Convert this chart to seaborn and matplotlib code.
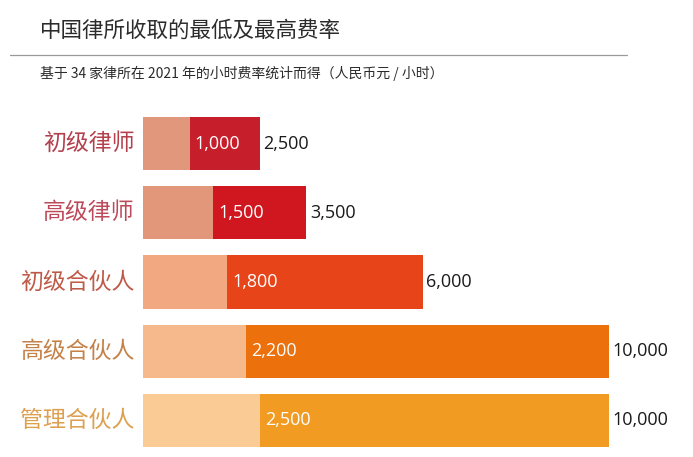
import matplotlib
matplotlib.use("Agg")
import matplotlib.pyplot as plt
import seaborn as sns

# 数据
jibie = ["初级律师", "高级律师", "初级合伙人", "高级合伙人", "管理合伙人"]
zuidi = [1000, 1500, 1800, 2200, 2500]
zuigao = [2500, 3500, 6000, 10000, 10000]

# 颜色
qian_se = ["#E0977B", "#E2977B", "#F2A880", "#F6B98B", "#FBCB96"]
shen_se = ["#C61E2B", "#D0161F", "#E7441A", "#EC700B", "#F29B23"]
biaoqian_se = ["#B3404C", "#BC4A5A", "#BE5B48", "#C48148", "#DDA050"]

sns.set_style("white")
plt.rcParams['font.family'] = ['Noto Sans CJK SC', 'DejaVu Sans']

fig = plt.figure(figsize=(6.93, 4.57), dpi=100)
ax = fig.add_axes([143 / 693, 2 / 457, 466 / 693, 346 / 457])

# 最高费率（深色，整条）
sns.barplot(x=zuigao, y=jibie, hue=jibie, palette=dict(zip(jibie, shen_se)),
            orient="h", width=0.77, ax=ax, legend=False, saturation=1, linewidth=0)
# 最低费率（浅色，覆盖在前段）
sns.barplot(x=zuidi, y=jibie, hue=jibie, palette=dict(zip(jibie, qian_se)),
            orient="h", width=0.77, ax=ax, legend=False, saturation=1, linewidth=0)

ax.set_xlim(0, 10000)
ax.set_ylim(4.5, -0.5)
ax.axis("off")

for i, (lo, hi) in enumerate(zip(zuidi, zuigao)):
    ax.text(lo + 110, i, f"{lo:,}", color="white", fontsize=13,
            va="center", ha="left", family=["Open Sans", "DejaVu Sans"])
    ax.text(hi + 80, i, f"{hi:,}", color="#1a1a1a", fontsize=13,
            va="center", ha="left", family=["Open Sans", "DejaVu Sans"], clip_on=False)
    ax.text(-180, i, jibie[i], color=biaoqian_se[i], fontsize=16.5, fontweight="light",
            va="center", ha="right", clip_on=False)

# 标题与副标题
fig.text(40 / 693, 1 - 31 / 457, "中国律所收取的最低及最高费率", fontsize=15.5,
         fontweight="light", color="#2b2b2b", va="center", ha="left")
fig.add_artist(plt.Line2D([10 / 693, 627 / 693], [1 - 55 / 457, 1 - 55 / 457],
                          color="#9a9a9a", lw=0.9))
fig.text(40 / 693, 1 - 73 / 457, "基于 34 家律所在 2021 年的小时费率统计而得（人民币元 / 小时）",
         fontsize=10, fontweight="light", color="#2b2b2b", va="center", ha="left")

plt.savefig("out.png", dpi=100)
plt.close()
